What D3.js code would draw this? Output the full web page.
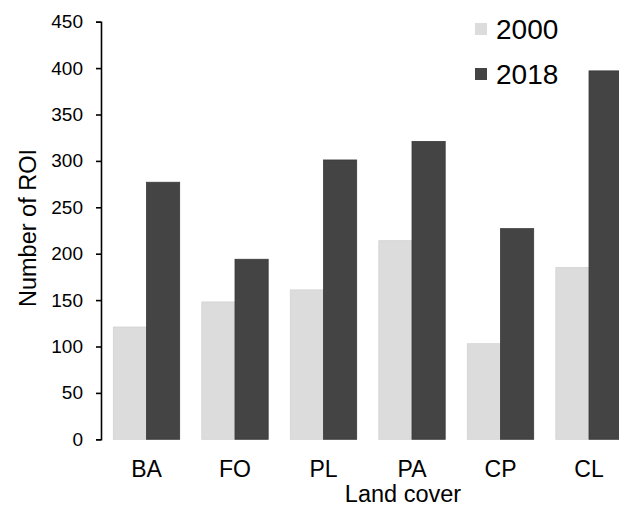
<!DOCTYPE html>
<html>
<head>
<meta charset="utf-8">
<script src="https://cdn.jsdelivr.net/npm/d3@7"></script>
<style>
    body { margin: 0; background: #fff; }
    svg { display: block; font-family: "Liberation Sans", Arial, sans-serif; }
</style>
</head>
<body>
<svg id="drawing_region"></svg>
<script>
const categories = ["BA", "FO", "PL", "PA", "CP", "CL"];
const years = ["2000", "2018"];
const values2000 = [121, 148, 161, 214, 103, 185];
const values2018 = [277, 194, 301, 321, 227, 397];
const yTicks = [0, 50, 100, 150, 200, 250, 300, 350, 400, 450];

const data = categories.map((c, i) => ({
    label: c,
    "2000": values2000[i],
    "2018": values2018[i]
}));

const config = {
    parent: "#drawing_region",
    width: 619,
    height: 506,
    left: 101,
    right: 634.5,
    top: 21.7,
    bottom: 439.3
};

const color = d3.scaleOrdinal()
    .domain(years)
    .range(["#dcdcdc", "#444444"]);

const svg = d3.select(config.parent)
    .attr("width", config.width)
    .attr("height", config.height);

const xScale = d3.scaleBand()
    .domain(categories)
    .range([config.left, config.right])
    .paddingInner(0.25)
    .paddingOuter(0.139);

const xSub = d3.scaleBand()
    .domain(years)
    .range([0, xScale.bandwidth()]);

const yScale = d3.scaleLinear()
    .domain([0, 450])
    .range([config.bottom, config.top]);

// bars
const groups = svg.append("g")
    .selectAll("g")
    .data(data)
    .join("g")
    .attr("transform", d => `translate(${xScale(d.label)},0)`);

groups.selectAll("rect")
    .data(d => years.map(y => ({ year: y, value: d[y] })))
    .join("rect")
    .attr("x", d => xSub(d.year))
    .attr("y", d => yScale(d.value))
    .attr("width", xSub.bandwidth())
    .attr("height", d => yScale(0) - yScale(d.value))
    .attr("fill", d => color(d.year))
    .attr("stroke", d => d.year === "2000" ? "#d2d2d2" : "#3a3a3a")
    .attr("stroke-width", 0.8);

// y axis
const yAxis = svg.append("g")
    .attr("transform", `translate(${config.left},0)`)
    .call(d3.axisLeft(yScale).tickValues(yTicks).tickSize(5).tickPadding(13));

yAxis.select(".domain").attr("stroke", "#000").attr("stroke-width", 1.6);
yAxis.selectAll(".tick line").attr("stroke", "#000").attr("stroke-width", 1.6);
yAxis.selectAll("text")
    .attr("font-size", "19px")
    .attr("font-family", "Liberation Sans, Arial, sans-serif")
    .attr("fill", "#000");

// x category labels
const xAxis = svg.append("g")
    .attr("transform", `translate(0,${config.bottom})`)
    .call(d3.axisBottom(xScale).tickSize(0).tickPadding(21));

xAxis.select(".domain").remove();
xAxis.selectAll("text")
    .attr("font-size", "23px")
    .attr("font-family", "Liberation Sans, Arial, sans-serif")
    .attr("fill", "#000");

// axis titles
svg.append("text")
    .attr("x", 403)
    .attr("y", 502)
    .attr("text-anchor", "middle")
    .attr("font-size", "23.5px")
    .text("Land cover");

svg.append("text")
    .attr("transform", "translate(36,228) rotate(-90)")
    .attr("text-anchor", "middle")
    .attr("font-size", "23.5px")
    .text("Number of ROI");

// legend
const legend = svg.append("g")
    .selectAll("g")
    .data(years)
    .join("g")
    .attr("transform", (d, i) => `translate(475,${29 + i * 45})`);

legend.append("rect")
    .attr("x", 0)
    .attr("y", -6)
    .attr("width", 12)
    .attr("height", 12)
    .attr("fill", d => color(d));

legend.append("text")
    .attr("x", 21)
    .attr("y", 10)
    .attr("font-size", "28px")
    .attr("fill", "#000")
    .text(d => d);
</script>
</body>
</html>
